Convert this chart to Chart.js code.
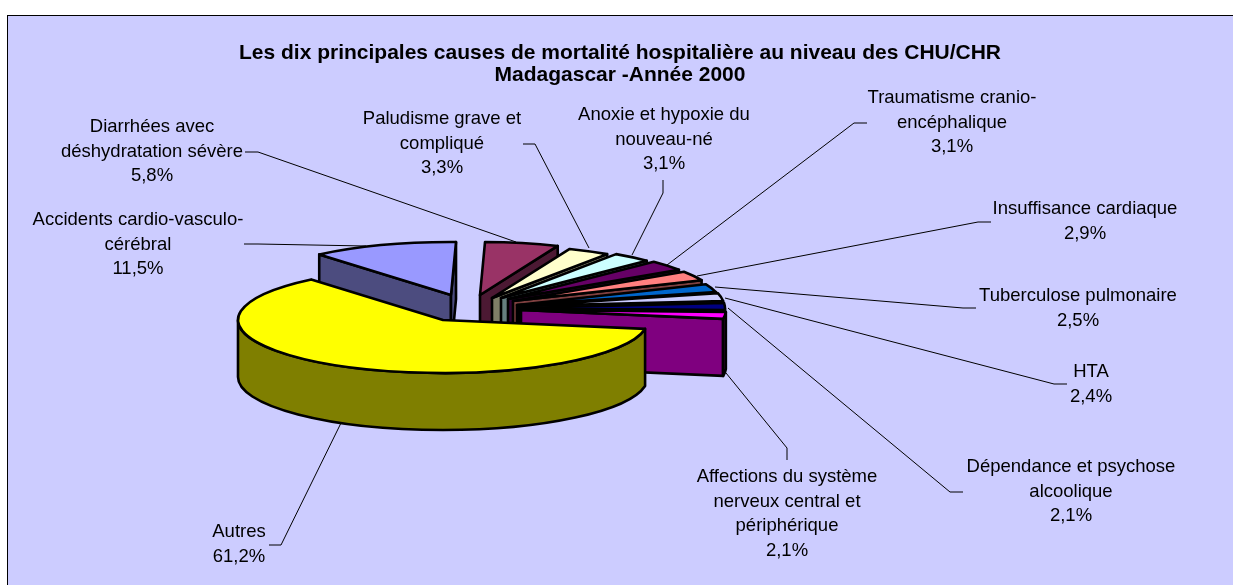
<!DOCTYPE html>
<html>
<head>
<meta charset="utf-8">
<title>Mortalité hospitalière</title>
<script src="https://cdn.jsdelivr.net/npm/chart.js@4/dist/chart.umd.js"></script>
<style>
  html, body { margin: 0; padding: 0; background: #fff; }
  canvas { display: block; }
</style>
</head>
<body>
<canvas id="pieChart" width="1233" height="585"></canvas>
<script>
// Data
const categories = [
    'Accidents cardio-vasculo-\ncérébral',
    'Diarrhées avec\ndéshydratation sévère',
    'Paludisme grave et\ncompliqué',
    'Anoxie et hypoxie du\nnouveau-né',
    'Traumatisme cranio-\nencéphalique',
    'Insuffisance cardiaque',
    'Tuberculose pulmonaire',
    'HTA',
    'Dépendance et psychose\nalcoolique',
    'Affections du système\nnerveux central et\npériphérique',
    'Autres'
];
const values = [11.5, 5.8, 3.3, 3.1, 3.1, 2.9, 2.5, 2.4, 2.1, 2.1, 61.2];
const titleLines = [
    'Les dix principales causes de mortalité hospitalière au niveau des CHU/CHR',
    'Madagascar -Année 2000'
];

// Colours, top face and side wall
const topColors = ['#9999FF', '#993366', '#FFFFCC', '#CCFFFF', '#660066', '#FF8080', '#0066CC', '#CCCCFF', '#000080', '#FF00FF', '#FFFF00'];
const sideColors = ['#4C4C7F', '#4C1933', '#7F7F66', '#667F7F', '#330033', '#7F4040', '#003366', '#66667F', '#000040', '#7F007F', '#7F7F00'];

// Pie look: apex of each exploded slice on the page, ellipse squash and wall height
const apexes = [[451, 295], [480, 295], [492, 298], [501, 298], [508, 299], [513, 301], [517, 305], [519, 306], [520, 308], [521, 310], [443, 320]];
const squash = 53 / 205;
const depth = 57;

// Label centres (y of first line) and leader lines
const labelPos = [[138, 220], [152, 127], [442, 119], [664, 115], [952, 98], [1085, 209], [1078, 296], [1091, 372], [1071, 467], [787, 477], [239, 532]];
const lineGap = 24.5;
const leaders = [
    [[244, 244], [258, 244], [366, 246]],
    [[245, 152], [258, 152], [516, 242]],
    [[523, 144], [535, 144], [589, 248]],
    [[663, 180], [663, 193], [632, 255]],
    [[867, 123], [854, 123], [667, 265]],
    [[991, 222], [978, 222], [697, 276]],
    [[976, 308], [963, 308], [715, 287]],
    [[1067, 384], [1054, 384], [725, 298]],
    [[963, 492], [950, 492], [728, 308]],
    [[787, 460], [787, 448], [726, 373]],
    [[269, 545], [281, 545], [341, 423]]
];

// Paints the chart area and frame
const framePlugin = {
    id: 'frame',
    beforeDraw(chart) {
        const ctx = chart.ctx;
        ctx.save();
        ctx.fillStyle = '#CCCCFF';
        ctx.strokeStyle = '#000';
        ctx.lineWidth = 1;
        ctx.fillRect(7.5, 15.5, chart.width, chart.height);
        ctx.strokeRect(7.5, 15.5, chart.width, chart.height);
        ctx.restore();
    }
};

function drawWall(ctx, p, q, color) {
    ctx.beginPath();
    ctx.moveTo(p[0], p[1]);
    ctx.lineTo(q[0], q[1]);
    ctx.lineTo(q[0], q[1] + depth);
    ctx.lineTo(p[0], p[1] + depth);
    ctx.closePath();
    ctx.fillStyle = color;
    ctx.fill();
    ctx.stroke();
}

// Redraws the library's arcs as an exploded 3D pie
const pie3dPlugin = {
    id: 'pie3d',
    beforeDatasetDraw(chart) {
        const ctx = chart.ctx;
        const arcs = chart.getDatasetMeta(0).data;
        ctx.save();
        ctx.strokeStyle = '#000';
        ctx.lineWidth = arcs[0].options.borderWidth;
        ctx.lineJoin = 'round';
        arcs.forEach((arc, i) => {
            const { startAngle, endAngle, outerRadius } = arc.getProps(['startAngle', 'endAngle', 'outerRadius'], true);
            const rx = outerRadius, ry = outerRadius * squash;
            const [cx, cy] = apexes[i];
            const at = a => [cx + rx * Math.cos(a), cy + ry * Math.sin(a)];

            // radial walls facing the viewer
            if (Math.cos(startAngle) < 0) drawWall(ctx, [cx, cy], at(startAngle), sideColors[i]);
            if (Math.cos(endAngle) > 0) drawWall(ctx, [cx, cy], at(endAngle), sideColors[i]);

            // outer curved wall, lower half of the ellipse only
            for (let k = 0; k < 2; k++) {
                const lo = Math.max(startAngle, 2 * Math.PI * k);
                const hi = Math.min(endAngle, 2 * Math.PI * k + Math.PI);
                if (hi <= lo) continue;
                ctx.beginPath();
                ctx.ellipse(cx, cy, rx, ry, 0, lo, hi);
                ctx.ellipse(cx, cy + depth, rx, ry, 0, hi, lo, true);
                ctx.closePath();
                ctx.fillStyle = sideColors[i];
                ctx.fill();
                ctx.stroke();
            }

            // top face
            ctx.beginPath();
            ctx.moveTo(cx, cy);
            ctx.ellipse(cx, cy, rx, ry, 0, startAngle, endAngle);
            ctx.closePath();
            ctx.fillStyle = arc.options.backgroundColor;
            ctx.fill();
            ctx.stroke();
        });
        ctx.restore();
        return false;
    },
    afterDraw(chart) {
        const ctx = chart.ctx;
        ctx.save();
        ctx.strokeStyle = '#000';
        ctx.lineWidth = 1;
        leaders.forEach(pts => {
            ctx.beginPath();
            pts.forEach((p, j) => j ? ctx.lineTo(p[0], p[1]) : ctx.moveTo(p[0], p[1]));
            ctx.stroke();
        });
        ctx.fillStyle = '#000';
        ctx.font = '18.5px "Liberation Sans"';
        ctx.textAlign = 'center';
        ctx.textBaseline = 'middle';
        categories.forEach((name, i) => {
            const lines = name.split('\n').concat(values[i].toFixed(1).replace('.', ',') + '%');
            lines.forEach((line, j) => ctx.fillText(line, labelPos[i][0], labelPos[i][1] + j * lineGap));
        });
        ctx.restore();
    }
};

new Chart(document.getElementById('pieChart'), {
    type: 'pie',
    data: {
        labels: categories,
        datasets: [{
            data: values,
            backgroundColor: topColors,
            borderColor: '#000',
            borderWidth: 2.6
        }]
    },
    options: {
        responsive: false,
        animation: false,
        rotation: 320,
        radius: 205,
        layout: { padding: { left: 7 } },
        plugins: {
            legend: { display: false },
            tooltip: { enabled: false },
            title: {
                display: true,
                text: titleLines,
                color: '#000',
                font: { family: '"Liberation Sans"', size: 21, weight: 'bold', lineHeight: 1.05 },
                padding: { top: 42, bottom: 10 }
            }
        }
    },
    plugins: [framePlugin, pie3dPlugin]
});
</script>
</body>
</html>
